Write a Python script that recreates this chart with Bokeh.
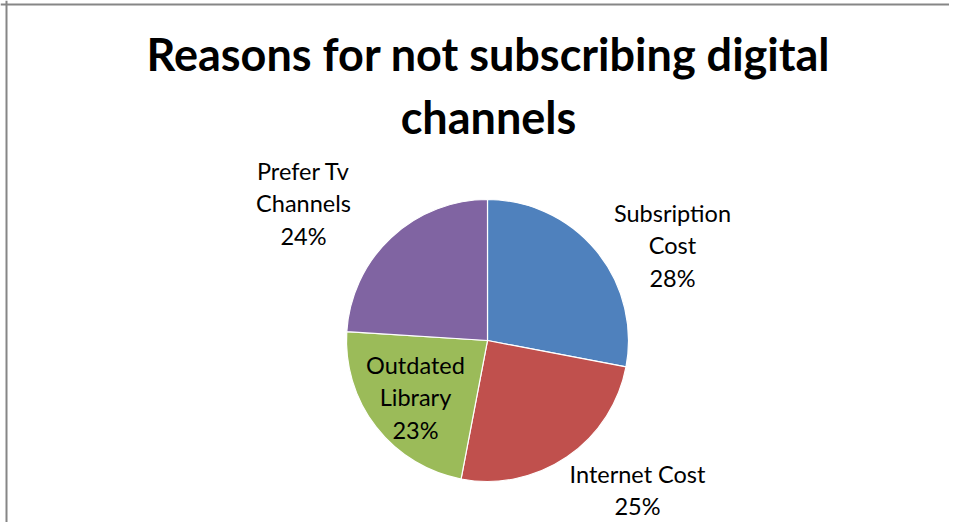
import math
from bokeh.plotting import figure
from bokeh.models import ColumnDataSource, Range1d, Span
from bokeh.core.properties import value
from bokeh.embed import file_html
from bokeh.resources import INLINE

# ---- data ----
categories = ["Subsription\nCost", "Internet Cost", "Outdated\nLibrary", "Prefer Tv\nChannels"]
shares = [28, 25, 23, 24]
colors = ["#4F81BD", "#C0504D", "#9BBB59", "#8064A2"]
title_lines = ["Reasons for not subscribing digital", "channels"]

# ---- layout (picture pixels) ----
W, H = 949, 522
BASE_K = 0.42  # empirical baseline correction (fraction of font size)
def px(X):
    return X
def py(Y, fs=0):
    return H - (Y - BASE_K * fs)

CX, CY, R = 487, 340, 141
# label anchor (center x, baseline of first line) in picture pixels
label_anchor = [(672, 222), (637, 483), (415, 374), (303, 180)]
LINE_STEP = 32.5
LABEL_FS = 23.5
TITLE_FS = 45
LABEL_FONT = "Lato"
TITLE_FONT = "Lato"

p = figure(width=W, height=H, output_backend="svg", toolbar_location=None,
           x_range=Range1d(0, W), y_range=Range1d(0, H), min_border=0,
           outline_line_color=None, background_fill_color="white",
           border_fill_color="white")
p.axis.visible = False
p.grid.visible = False

total = float(sum(shares))
starts, ends = [], []
cum = 0.0
for s in shares:
    a0 = cum / total * 2 * math.pi
    cum += s
    a1 = cum / total * 2 * math.pi
    starts.append(math.pi / 2 - a0)
    ends.append(math.pi / 2 - a1)

src = ColumnDataSource(dict(x=[px(CX)] * 4, y=[py(CY)] * 4, start=starts, end=ends,
                            color=colors, name=categories, share=shares))
p.wedge(x="x", y="y", radius=R, start_angle="start", end_angle="end",
        direction="clock", fill_color="color", line_color="white", line_width=1.2,
        source=src)

# labels
lx, ly, lt = [], [], []
for cat, s, (ax, ay) in zip(categories, shares, label_anchor):
    lines = cat.split("\n") + ["%d%%" % s]
    for i, t in enumerate(lines):
        lx.append(px(ax))
        ly.append(py(ay + i * LINE_STEP, LABEL_FS))
        lt.append(t)
p.text(x=lx, y=ly, text=lt, text_align="center", text_baseline="alphabetic",
       text_font=value(LABEL_FONT), text_font_size="%gpx" % LABEL_FS, text_color="#000000")

# title
tb = [72, 135]
p.text(x=[px(488)] * 2, y=[py(b, TITLE_FS) for b in tb], text=title_lines,
       text_align="center", text_baseline="alphabetic",
       text_font=value(TITLE_FONT), text_font_style="bold",
       text_font_size="%gpx" % TITLE_FS, text_color="#000000")

# chart border (left and top edges)
p.add_layout(Span(location=6, dimension="height", line_color="#868686", line_width=2))
p.add_layout(Span(location=H - 4, dimension="width", line_color="#868686", line_width=2))

open("out.html", "w").write(file_html(p, INLINE))
